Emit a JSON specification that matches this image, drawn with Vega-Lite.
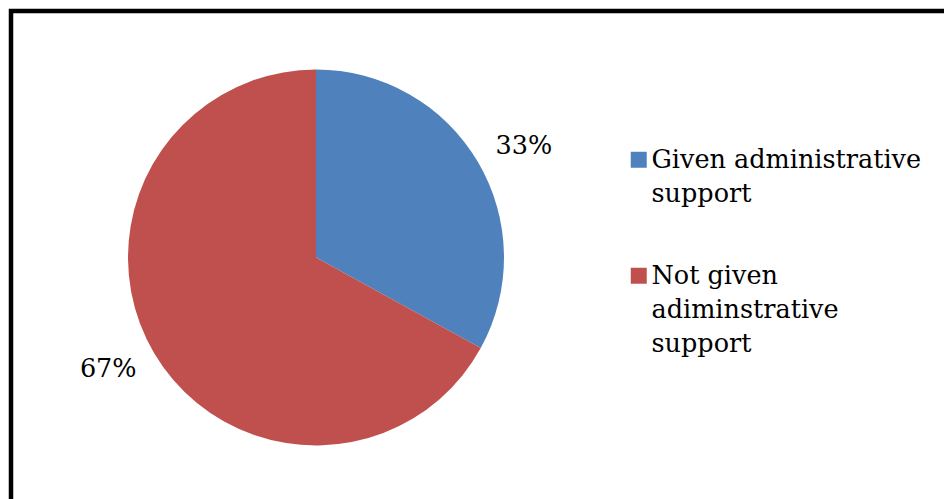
{
  "$schema": "https://vega.github.io/schema/vega-lite/v6.json",
  "width": 940,
  "height": 500,
  "autosize": "none",
  "padding": {"left": 11, "top": 11, "right": 0, "bottom": 0},
  "view": {"stroke": "black", "strokeWidth": 4.5},
  "config": {
    "view": {"stroke": "black", "strokeWidth": 4.5},
    "style": {"cell": {"stroke": "black", "strokeWidth": 4.5}, "guide-label": {"lineHeight": 34}},
    "font": "DejaVu Serif"
  },
  "data": {
    "values": [
      {"category": "Given administrative support", "value": 33, "label": "33%"},
      {"category": "Not given adiminstrative support", "value": 67, "label": "67%"}
    ]
  },
  "encoding": {
    "theta": {"field": "value", "type": "quantitative", "stack": true}
  },
  "layer": [
    {
      "mark": {"type": "arc", "outerRadius": 188, "x": 305, "y": 246.5},
      "encoding": {
        "color": {
          "field": "category",
          "type": "nominal",
          "scale": {"domain": ["Given administrative support", "Not given adiminstrative support"], "range": ["#4F81BD", "#C0504D"]},
          "legend": {
            "orient": "none",
            "legendX": 615,
            "legendY": 136,
            "title": null,
            "symbolType": "square",
            "symbolSize": 256,
            "symbolStrokeWidth": 0,
            "labelFont": "DejaVu Serif",
            "labelFontSize": 25.5,
            "labelColor": "black",
            "labelLimit": 400,
            "labelOffset": 0,
            "rowPadding": 55,
            "labelExpr": "datum.label == 'Given administrative support' ? ['Given administrative', 'support'] : ['Not given', 'adiminstrative', 'support']"
          }
        }
      }
    },
    {
      "mark": {"type": "text", "radius": 236, "thetaOffset": 0.04, "x": 305, "y": 246.5, "fontSize": 25.5, "font": "DejaVu Serif", "color": "black"},
      "encoding": {
        "detail": {"field": "category", "type": "nominal"},
        "text": {"field": "label", "type": "nominal"}
      }
    }
  ]
}
